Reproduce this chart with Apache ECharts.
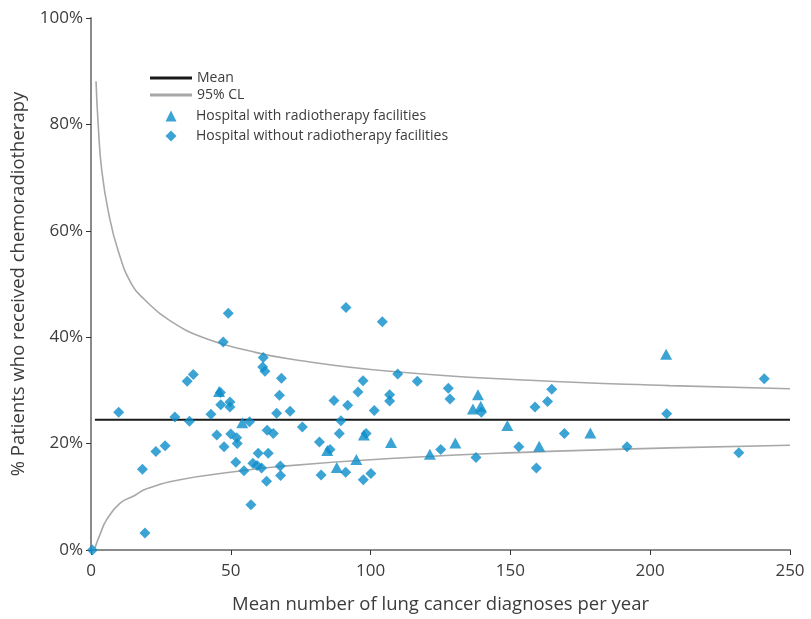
<!DOCTYPE html>
<html>
<head>
<meta charset="utf-8">
<script src="https://cdn.jsdelivr.net/npm/echarts@6/dist/echarts.min.js"></script>
<style>
  html, body { margin: 0; padding: 0; background: #ffffff; }
  #chart { width: 811px; height: 619px; }
</style>
</head>
<body>
<div id="chart"></div>
<script>
// Axis ranges and tick steps
const xTicks = [0, 50, 100, 150, 200, 250];
const yTicks = [0, 20, 40, 60, 80, 100];

// Overall mean proportion (%) across hospitals
const meanValue = 24.5;
const meanRange = [1.4, 250];

// 95% control limits: [diagnoses per year, %]
const upperLimit = [
  [1.8, 88.1], [2.6, 79.7], [3.8, 71.6], [6.2, 63.6], [9.8, 56.1],
  [14.6, 49.9], [19.3, 47.0], [27.7, 43.3], [40.8, 39.8], [56.9, 37.4],
  [71.2, 35.9], [106.9, 33.6], [157, 31.9], [207, 30.9], [250, 30.3]
];
const lowerLimit = [
  [1.4, 0.4], [3.2, 2.9], [5.6, 5.7], [10.4, 8.8], [15.1, 10.1],
  [19.9, 11.5], [31.8, 13.2], [49.7, 14.6], [67.6, 15.7], [106.9, 17.2],
  [157, 18.4], [207, 19.2], [250, 19.7]
];

// Hospitals with radiotherapy facilities: [diagnoses per year, % chemoradiotherapy]
const withFacilities = [
  [45.8, 29.8], [54.1, 23.9], [97.6, 21.6], [107.3, 20.2], [84.5, 18.7],
  [94.9, 17.0], [87.9, 15.5], [138.4, 29.2], [136.6, 26.5], [139.4, 27.0],
  [148.9, 23.4], [121.2, 18.0], [130.3, 20.1], [205.7, 36.8], [178.6, 22.0],
  [160.3, 19.5]
];

// Hospitals without radiotherapy facilities
const withoutFacilities = [
  [0.5, 0], [9.9, 25.9], [18.4, 15.2], [19.3, 3.2], [23.2, 18.5],
  [26.5, 19.6], [30.0, 25.0], [34.4, 31.7], [36.6, 33.0], [35.2, 24.2],
  [42.9, 25.5], [45.0, 21.6], [46.3, 29.6], [46.4, 27.3], [47.3, 39.1],
  [47.6, 19.4], [49.1, 44.5], [49.7, 27.8], [49.7, 26.9], [50.0, 21.8],
  [51.8, 16.5], [52.1, 21.1], [52.3, 20.0], [54.7, 14.9], [56.7, 24.1],
  [57.2, 8.5], [57.9, 16.3], [59.8, 18.2], [59.4, 15.9], [61.0, 15.4],
  [61.4, 34.4], [61.6, 36.2], [62.2, 33.6], [62.8, 12.9], [63.0, 22.5],
  [63.4, 18.2], [65.2, 21.9], [66.4, 25.7], [67.4, 29.1], [67.7, 15.8],
  [68.1, 32.3], [67.8, 14.0], [71.2, 26.1], [75.6, 23.1], [81.7, 20.3],
  [82.3, 14.1], [85.5, 18.9], [86.9, 28.1], [88.8, 21.9], [89.4, 24.3],
  [91.1, 14.6], [91.2, 45.6], [91.8, 27.2], [95.5, 29.7], [97.3, 31.8],
  [97.4, 13.2], [98.4, 21.9], [100.1, 14.4], [101.3, 26.2], [104.2, 42.9],
  [106.8, 29.2], [106.8, 28.0], [109.7, 33.1], [116.7, 31.7], [125.1, 18.9],
  [127.8, 30.4], [128.4, 28.4], [137.7, 17.4], [139.6, 25.9], [153.0, 19.4],
  [158.8, 26.9], [159.3, 15.4], [163.3, 27.9], [164.8, 30.2], [169.3, 21.9],
  [191.7, 19.4], [205.9, 25.6], [231.7, 18.3], [240.8, 32.2]
];

const FONT = '"Open Sans", "Noto Sans", sans-serif';
const BLUE = '#0b8dc9';
const TEXT = '#3c3c3c';
const LEGEND_FONT = { fontFamily: FONT, fontSize: 14, color: TEXT };

const chart = echarts.init(document.getElementById('chart'), null, { renderer: 'canvas' });

chart.setOption({
  animation: false,
  backgroundColor: '#ffffff',
  grid: { left: 91, right: 21, top: 18, bottom: 65, containLabel: false },
  legend: [
    {
      data: ['Mean', '95% CL'],
      orient: 'vertical',
      left: 150,
      top: 71,
      padding: 0,
      icon: 'rect',
      itemWidth: 42,
      itemHeight: 3,
      itemGap: 3,
      selectedMode: false,
      textStyle: LEGEND_FONT
    },
    {
      data: ['Hospital with radiotherapy facilities', 'Hospital without radiotherapy facilities'],
      orient: 'vertical',
      left: 165.5,
      top: 109,
      padding: 0,
      itemWidth: 11,
      itemHeight: 11,
      itemGap: 6,
      selectedMode: false,
      textStyle: Object.assign({ padding: [0, 0, 0, 14.5] }, LEGEND_FONT)
    }
  ],
  xAxis: {
    type: 'value',
    min: xTicks[0],
    max: xTicks[xTicks.length - 1],
    interval: xTicks[1] - xTicks[0],
    name: 'Mean number of lung cancer diagnoses per year',
    nameLocation: 'middle',
    nameGap: 45,
    nameTextStyle: { fontFamily: FONT, fontSize: 18.5, color: TEXT },
    axisLine: { onZero: false, lineStyle: { color: '#8a8a8a', width: 2 } },
    axisTick: { show: true, length: 5, lineStyle: { color: '#333333', width: 1 } },
    axisLabel: { fontFamily: FONT, fontSize: 17, color: TEXT, margin: 13 },
    splitLine: { show: false }
  },
  yAxis: {
    type: 'value',
    min: yTicks[0],
    max: yTicks[yTicks.length - 1],
    interval: yTicks[1] - yTicks[0],
    name: '% Patients who received chemoradiotherapy',
    nameLocation: 'middle',
    nameGap: 63,
    nameTextStyle: { fontFamily: FONT, fontSize: 18.5, color: TEXT },
    axisLine: { show: true, onZero: false, lineStyle: { color: '#8a8a8a', width: 2 } },
    axisTick: { show: true, length: 5, lineStyle: { color: '#333333', width: 1 } },
    axisLabel: { fontFamily: FONT, fontSize: 17, color: TEXT, margin: 8, formatter: '{value}%' },
    splitLine: { show: false }
  },
  series: [
    {
      name: '95% CL',
      type: 'line',
      data: upperLimit,
      smooth: 0.5,
      showSymbol: false,
      symbol: 'none',
      color: '#a8a8a8',
      lineStyle: { color: '#a8a8a8', width: 1.6 },
      z: 2
    },
    {
      name: '95% CL',
      type: 'line',
      data: lowerLimit,
      smooth: 0.5,
      showSymbol: false,
      symbol: 'none',
      color: '#a8a8a8',
      lineStyle: { color: '#a8a8a8', width: 1.6 },
      z: 2
    },
    {
      name: 'Mean',
      type: 'line',
      data: meanRange.map(x => [x, meanValue]),
      showSymbol: false,
      symbol: 'none',
      color: '#1a1a1a',
      lineStyle: { color: '#1a1a1a', width: 2 },
      z: 3
    },
    {
      name: 'Hospital with radiotherapy facilities',
      type: 'scatter',
      data: withFacilities,
      symbol: 'triangle',
      symbolSize: [12, 11],
      color: BLUE,
      itemStyle: { color: BLUE },
      z: 4
    },
    {
      name: 'Hospital without radiotherapy facilities',
      type: 'scatter',
      data: withoutFacilities,
      symbol: 'diamond',
      symbolSize: [11, 11],
      color: BLUE,
      itemStyle: { color: BLUE },
      z: 5
    }
  ]
});
</script>
</body>
</html>
